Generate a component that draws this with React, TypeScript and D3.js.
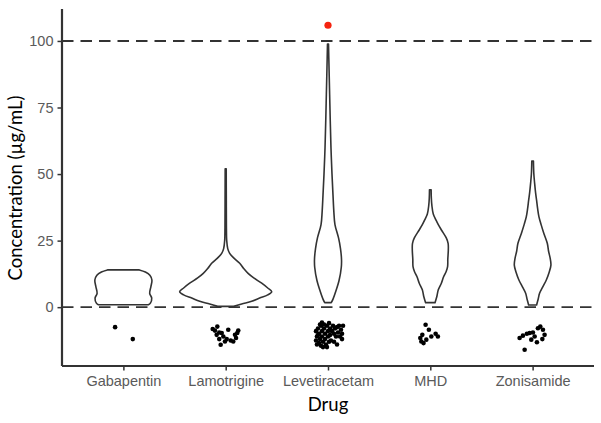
import { useEffect, useRef } from "react";
import * as d3 from "d3";

// categories and reference lines
const drugs = ["Gabapentin", "Lamotrigine", "Levetiracetam", "MHD", "Zonisamide"];
const yTicks = [0, 25, 50, 75, 100];
const limitLines = [0, 100];

// violin outlines: [concentration, half width in category units]
const gabapentinViolin: [number, number][] = [
  [0.9, 0.244], [1.5, 0.264], [3.4, 0.277], [5.2, 0.257], [7.7, 0.269],
  [10.2, 0.279], [12, 0.259], [13.2, 0.215], [14, 0.156],
];
const lamotrigineViolin: [number, number][] = [
  [0.3, 0.078], [1.2, 0.156], [2.2, 0.254], [3.4, 0.332], [4.6, 0.411],
  [5.8, 0.45], [7.2, 0.411], [9, 0.352], [11, 0.274], [12.7, 0.219],
  [14.5, 0.176], [16.5, 0.137], [18.5, 0.078], [20.2, 0.039], [22, 0.02],
  [25, 0.01], [30, 0.007], [40, 0.006], [52, 0.005],
];
const levetiracetamViolin: [number, number][] = [
  [1.7, 0.032], [3, 0.049], [6.5, 0.081], [10, 0.108], [15, 0.13],
  [18, 0.132], [22, 0.122], [26, 0.103], [31, 0.068], [36, 0.057],
  [42, 0.049], [50, 0.039], [60, 0.029], [70, 0.022], [80, 0.016],
  [90, 0.01], [98.8, 0.005],
];
const mhdViolin: [number, number][] = [
  [1.7, 0.046], [4, 0.064], [6.5, 0.078], [9, 0.108], [11.4, 0.13],
  [13.5, 0.156], [15.2, 0.169], [18, 0.171], [21.4, 0.176], [24, 0.174],
  [26, 0.156], [28.9, 0.11], [31, 0.078], [32.7, 0.056], [35, 0.029],
  [38.3, 0.015], [41, 0.01], [44.1, 0.008],
];
const zonisamideViolin: [number, number][] = [
  [0.8, 0.039], [3, 0.054], [5.2, 0.068], [7.5, 0.098], [10.2, 0.134],
  [13, 0.161], [15.8, 0.179], [18.5, 0.171], [21, 0.156], [23.9, 0.144],
  [27.7, 0.11], [31, 0.083], [33.9, 0.062], [37, 0.049], [40.1, 0.039],
  [43, 0.029], [46.4, 0.02], [50, 0.012], [54.9, 0.008],
];

// jittered points under the zero line: [jitter in category units, value]
const gabapentinPoints: [number, number][] = [[-0.081, -7.5], [0.092, -12]];
const lamotriginePoints: [number, number][] = [
  [-0.127, -8.2], [-0.105, -8.8], [-0.082, -7.3], [-0.063, -9.5], [-0.088, -10.4],
  [-0.039, -9.7], [-0.023, -11], [-0.063, -12], [-0.049, -14.1], [-0.007, -12.9],
  [0.049, -12.5], [0.074, -12.9], [0.101, -11.6], [0.113, -9.7], [0.123, -8.8],
  [0.091, -10.4], [0.025, -8.5], [0.01, -12],
];
const levetiracetamPoints: [number, number][] = [
  [-0.117, -9], [-0.108, -11], [-0.117, -12.5], [-0.098, -8], [-0.088, -10],
  [-0.078, -12], [-0.088, -13.5], [-0.068, -7], [-0.059, -9], [-0.059, -11],
  [-0.049, -13], [-0.068, -14.5], [-0.039, -8], [-0.029, -10], [-0.029, -12],
  [-0.02, -14], [-0.01, -7], [0, -9], [0, -11], [0.01, -13],
  [-0.039, -6.5], [-0.078, -6.5], [0.02, -8], [0.02, -10.5], [-0.098, -10.5],
  [-0.049, -15], [-0.01, -15], [0.039, -9], [0.049, -7], [0.059, -10],
  [0.068, -8], [0.078, -11], [0.088, -7.5], [0.098, -9.5], [0.108, -7],
  [0.117, -11], [0.127, -8.5], [0.137, -10], [0.147, -7], [0.137, -12],
  [0.088, -14], [0.059, -13], [0.029, -12.5], [-0.108, -14], [0.01, -6],
  [-0.059, -5.8],
];
const mhdPoints: [number, number][] = [
  [-0.046, -6.6], [-0.014, -8.5], [-0.078, -10.4], [-0.088, -12.9], [-0.039, -12.2],
  [0.01, -11], [0.052, -10], [0.074, -11], [-0.066, -13.5], [-0.098, -11.6],
];
const zonisamidePoints: [number, number][] = [
  [-0.078, -16], [-0.127, -11.6], [-0.095, -10.7], [-0.056, -10], [-0.029, -9.7],
  [0.003, -9.5], [0.052, -7.9], [0.075, -7.3], [0.101, -8.5], [0.117, -10.4],
  [0.095, -12], [0.042, -13.2], [0.02, -11], [-0.013, -12.2],
];

// the one value above the upper limit
const outliers: [string, number, number][] = [["Levetiracetam", 0, 105.9]];

const violins = [gabapentinViolin, lamotrigineViolin, levetiracetamViolin, mhdViolin, zonisamideViolin];
const points = [gabapentinPoints, lamotriginePoints, levetiracetamPoints, mhdPoints, zonisamidePoints];

export default function App() {
  const ref = useRef<HTMLDivElement>(null);

  useEffect(() => {
    if (!ref.current) return;
    const container = ref.current;
    container.innerHTML = "";

    const width = 601;
    const height = 423;
    const left = 62;
    const right = 594;
    const top = 9;
    const bottom = 366;
    const ink = "#333333";

    const svg = d3
      .select(container)
      .append("svg")
      .attr("width", width)
      .attr("height", height)
      .style("position", "absolute")
      .style("left", "0px")
      .style("top", "0px")
      .style("background", "#fff");

    const x = d3.scalePoint<string>().domain(drugs).range([left, right]).padding(0.6);
    const step = x.step();
    const y = d3.scaleLinear().domain([-22.1, 112]).range([bottom, top]);

    // limit lines
    svg
      .selectAll("line.limit")
      .data(limitLines)
      .join("line")
      .attr("class", "limit")
      .attr("x1", left)
      .attr("x2", right)
      .attr("y1", (d) => y(d))
      .attr("y2", (d) => y(d))
      .attr("stroke", ink)
      .attr("stroke-width", 1.9)
      .attr("stroke-dasharray", "11.5 7");

    // violins and jittered points
    drugs.forEach((drug, i) => {
      const cx = x(drug) as number;
      const area = d3
        .area<[number, number]>()
        .y((d) => y(d[0]))
        .x0((d) => cx - d[1] * step)
        .x1((d) => cx + d[1] * step)
        .curve(d3.curveCatmullRom);
      svg
        .append("path")
        .datum(violins[i])
        .attr("d", area)
        .attr("fill", "none")
        .attr("stroke", ink)
        .attr("stroke-width", 1.6)
        .attr("stroke-linejoin", "round");

      svg
        .append("g")
        .selectAll("circle")
        .data(points[i])
        .join("circle")
        .attr("cx", (d) => cx + d[0] * step)
        .attr("cy", (d) => y(d[1]))
        .attr("r", 2.3)
        .attr("fill", "#000");
    });

    svg
      .selectAll("circle.outlier")
      .data(outliers)
      .join("circle")
      .attr("class", "outlier")
      .attr("cx", (d) => (x(d[0]) as number) + d[1] * step)
      .attr("cy", (d) => y(d[2]))
      .attr("r", 3.6)
      .attr("fill", "#f5230f");

    // axes
    const yAxis = svg
      .append("g")
      .attr("transform", `translate(${left},0)`)
      .call(d3.axisLeft(y).tickValues(yTicks).tickSize(4.5).tickPadding(4));
    yAxis.select(".domain").attr("d", `M0,${top}V${bottom}`).attr("stroke", ink).attr("stroke-width", 2.2);

    const xAxis = svg
      .append("g")
      .attr("transform", `translate(0,${bottom})`)
      .call(d3.axisBottom(x).tickSize(4.5).tickPadding(5));
    xAxis.select(".domain").attr("d", `M${left},0H${right}`).attr("stroke", ink).attr("stroke-width", 2.2);

    [yAxis, xAxis].forEach((g) => {
      g.selectAll(".tick line").attr("stroke", ink).attr("stroke-width", 1.5);
      g.selectAll(".tick text")
        .attr("fill", "#5a5a5a")
        .style("font-family", "'Liberation Sans', Arial, sans-serif")
        .style("font-size", "14.5px");
    });

    // titles
    svg
      .append("text")
      .attr("x", (left + right) / 2)
      .attr("y", 411)
      .attr("text-anchor", "middle")
      .style("font-family", "Lato, 'Open Sans', sans-serif")
      .style("font-size", "18.5px")
      .attr("fill", "#000")
      .text("Drug");

    svg
      .append("text")
      .attr("transform", `translate(22,${188}) rotate(-90)`)
      .attr("text-anchor", "middle")
      .style("font-family", "Lato, 'Open Sans', sans-serif")
      .style("font-size", "18.5px")
      .attr("fill", "#000")
      .text("Concentration (µg/mL)");

    return () => {
      container.innerHTML = "";
    };
  }, []);

  return <div ref={ref} />;
}
